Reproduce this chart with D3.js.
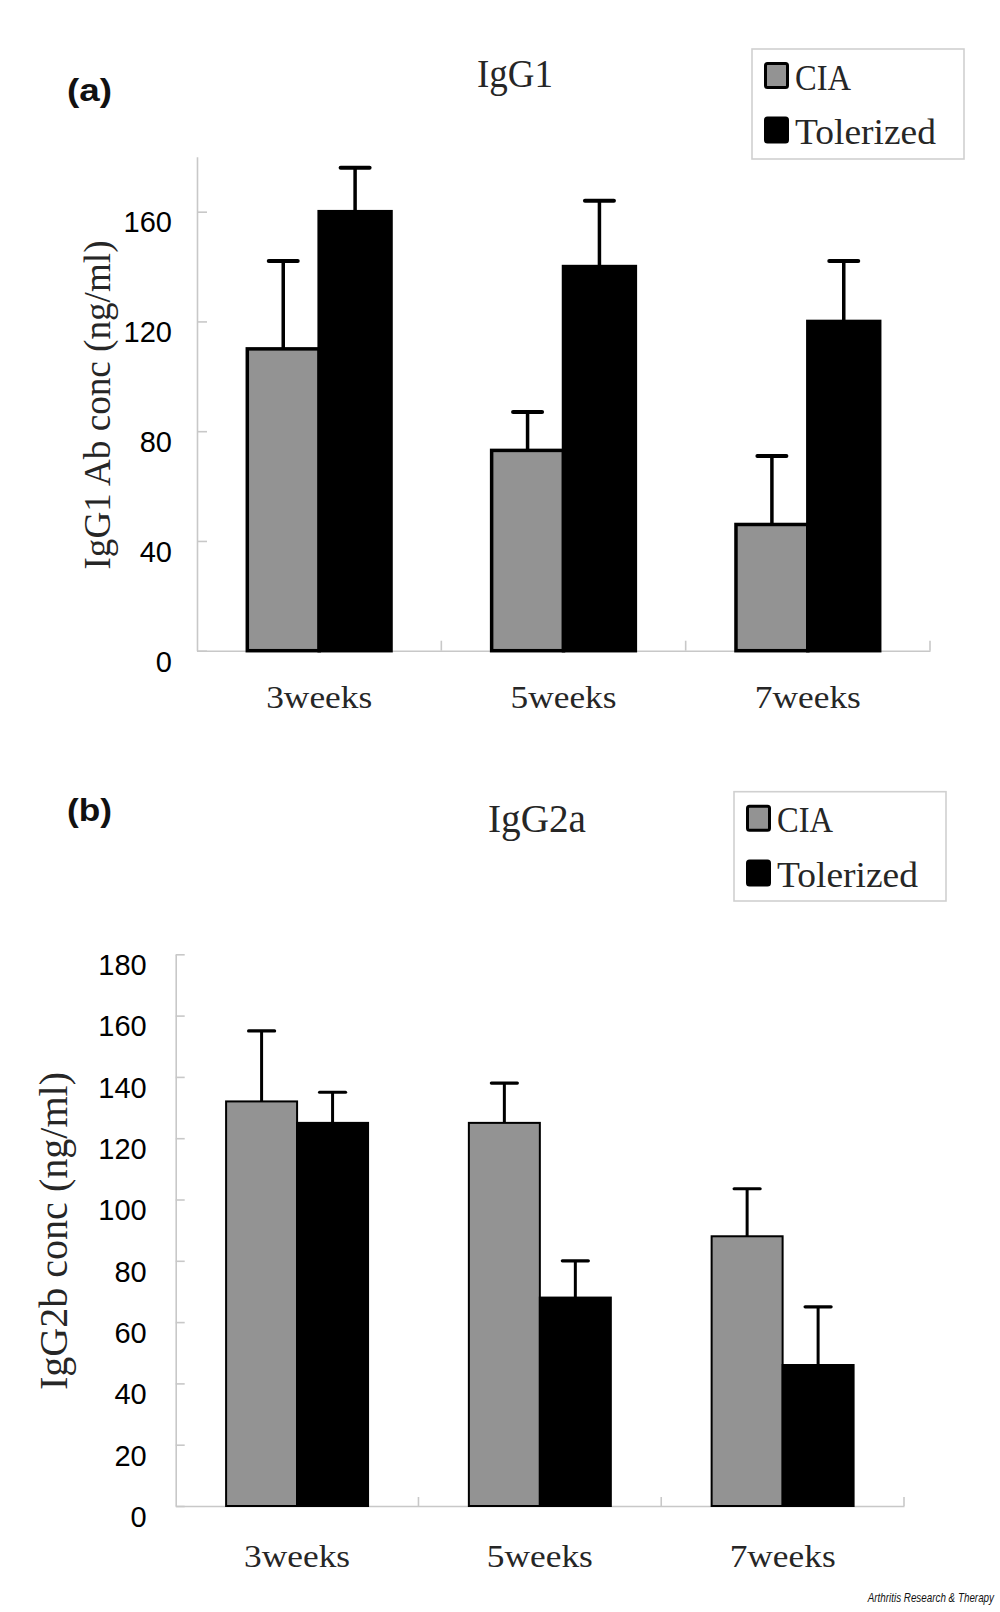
<!DOCTYPE html>
<html><head><meta charset="utf-8">
<script src="https://cdn.jsdelivr.net/npm/d3@7"></script>
<style>body{margin:0;background:#fff}</style>
</head><body>
<svg id="chart" width="1000" height="1612"></svg>
<script>
// ---- data ----
const categories = ["3weeks", "5weeks", "7weeks"];
const seriesNames = ["CIA", "Tolerized"];
const seriesColors = ["#939393", "#000000"];

const igg1CIA = [110, 73, 46];
const igg1CIAErr = [32, 14, 25];
const igg1Tol = [160, 140, 120];
const igg1TolErr = [16, 24, 22];

const igg2aCIA = [132, 125, 88];
const igg2aCIAErr = [23, 13, 15.5];
const igg2aTol = [125, 68, 46];
const igg2aTolErr = [10, 12, 19];

const ticksA = [0, 40, 80, 120, 160];
const ticksB = [0, 20, 40, 60, 80, 100, 120, 140, 160, 180];

const panelLetters = ["(a)", "(b)"];
const titles = ["IgG1", "IgG2a"];
const yLabels = ["IgG1 Ab conc (ng/ml)", "IgG2b conc (ng/ml)"];
const credit = "Arthritis Research & Therapy";

const SERIF = "'Liberation Serif', 'Times New Roman', serif";
const SANS = "'Liberation Sans', Arial, sans-serif";
const SERIF_FILL = "#262626";

const svg = d3.select("#chart");
svg.append("rect").attr("width", 1000).attr("height", 1612).attr("fill", "#fff");

function panel(o) {
  const g = svg.append("g");
  const x0 = d3.scaleBand().domain(categories).range([o.left, o.right]).padding(0);
  const x1 = d3.scaleBand().domain(seriesNames).range([0, x0.bandwidth()])
    .paddingInner(0).paddingOuter(o.pad);
  const y = d3.scaleLinear().domain([0, 180]).range([o.bottom, o.top]);

  // y axis
  const ya = g.append("g").attr("transform", `translate(${o.left},0)`)
    .call(d3.axisLeft(y).tickValues(o.ticks).tickSizeInner(-o.tickLen).tickSizeOuter(0).tickPadding(o.tickPad));
  ya.select(".domain").attr("stroke", "#c8c8c8").attr("stroke-width", 1.6);
  ya.selectAll(".tick line").attr("stroke", "#c8c8c8").attr("stroke-width", 1.6);
  ya.selectAll(".tick text").attr("font-family", SANS).attr("font-size", 29)
    .attr("fill", "#000").attr("dy", "0.7em");

  // x axis
  const xa = g.append("g").attr("transform", `translate(0,${o.bottom})`)
    .call(d3.axisBottom(x0).tickSize(0).tickSizeOuter(0));
  xa.select(".domain").attr("stroke", "#c8c8c8").attr("stroke-width", 1.6);
  xa.selectAll(".tick text").attr("font-family", SERIF).attr("font-size", 32)
    .attr("fill", SERIF_FILL).attr("y", o.xLabelOff).attr("dy", 0)
    .attr("textLength", 106).attr("lengthAdjust", "spacingAndGlyphs");
  xa.selectAll(".bnd").data(categories).enter().append("line")
    .attr("class", "bnd")
    .attr("x1", d => x0(d) + x0.bandwidth()).attr("x2", d => x0(d) + x0.bandwidth())
    .attr("y1", 0).attr("y2", -o.tickLen)
    .attr("stroke", "#c8c8c8").attr("stroke-width", 1.6);

  // bars
  const rows = categories.map((c, i) => ({
    c,
    vals: o.series.map((s, j) => ({ name: seriesNames[j], color: seriesColors[j], v: s.vals[i], e: s.errs[i] }))
  }));
  const grp = g.selectAll(".grp").data(rows).enter().append("g")
    .attr("class", "grp").attr("transform", d => `translate(${x0(d.c)},0)`);

  grp.selectAll(".err").data(d => d.vals).enter().append("line")
    .attr("x1", d => x1(d.name) + x1.bandwidth() / 2)
    .attr("x2", d => x1(d.name) + x1.bandwidth() / 2)
    .attr("y1", d => y(d.v)).attr("y2", d => y(d.v + d.e))
    .attr("stroke", "#000").attr("stroke-width", o.errW);
  grp.selectAll(".cap").data(d => d.vals).enter().append("line")
    .attr("x1", d => x1(d.name) + x1.bandwidth() / 2 - o.capW / 2)
    .attr("x2", d => x1(d.name) + x1.bandwidth() / 2 + o.capW / 2)
    .attr("y1", d => y(d.v + d.e)).attr("y2", d => y(d.v + d.e))
    .attr("stroke", "#000").attr("stroke-width", o.capT).attr("stroke-linecap", "round");

  grp.selectAll(".bar").data(d => d.vals).enter().append("rect")
    .attr("x", d => x1(d.name)).attr("width", x1.bandwidth())
    .attr("y", d => y(d.v)).attr("height", d => y(0) - y(d.v))
    .attr("fill", d => d.color).attr("stroke", "#000").attr("stroke-width", o.barStroke);

  // legend
  const lg = g.append("g");
  lg.append("rect").attr("x", o.leg.x).attr("y", o.leg.y).attr("width", o.leg.w).attr("height", o.leg.h)
    .attr("fill", "#fff").attr("stroke", "#d0d0d0").attr("stroke-width", 1.6);
  seriesNames.forEach((s, j) => {
    const sy = o.leg.y + o.leg.sy0 + j * o.leg.dy;
    lg.append("rect").attr("x", o.leg.x + 13.5).attr("y", sy).attr("width", 22).attr("height", 24)
      .attr("rx", 2).attr("fill", seriesColors[j]).attr("stroke", "#000").attr("stroke-width", 3);
    lg.append("text").attr("x", o.leg.x + 43).attr("y", sy + 26)
      .attr("font-family", SERIF).attr("font-size", 36).attr("fill", SERIF_FILL)
      .attr("textLength", j === 0 ? 56 : 141).attr("lengthAdjust", "spacingAndGlyphs")
      .text(s);
  });

  // title
  g.append("text").attr("x", o.titleX).attr("y", o.titleY).attr("text-anchor", "middle")
    .attr("font-family", SERIF).attr("font-size", 40).attr("fill", SERIF_FILL)
    .attr("textLength", o.titleLen).attr("lengthAdjust", "spacingAndGlyphs").text(o.title);

  // panel letter
  g.append("text").attr("x", 67).attr("y", o.letterY)
    .attr("font-family", SANS).attr("font-weight", "bold").attr("font-size", 32).attr("fill", "#111")
    .attr("textLength", 45).attr("lengthAdjust", "spacingAndGlyphs").text(o.letter);

  // y label
  g.append("text").attr("transform", `translate(${o.ylab.x},${o.ylab.y}) rotate(-90)`)
    .attr("text-anchor", "middle").attr("font-family", SERIF).attr("font-size", o.ylab.size)
    .attr("fill", SERIF_FILL).attr("textLength", o.ylab.len).attr("lengthAdjust", "spacingAndGlyphs")
    .text(o.ylabel);
}

panel({
  left: 197, right: 930, top: 156.8, bottom: 650.7, pad: 0.7,
  ticks: ticksA, tickLen: 10, tickPad: 25, xLabelOff: 57.6,
  series: [{ vals: igg1CIA, errs: igg1CIAErr }, { vals: igg1Tol, errs: igg1TolErr }],
  errW: 3.5, capW: 29, capT: 4, barStroke: 3.5,
  leg: { x: 752, y: 49, w: 212, h: 110, sy0: 14.5, dy: 54.5 },
  title: titles[0], titleX: 515, titleY: 87, titleLen: 76,
  letter: panelLetters[0], letterY: 101,
  ylabel: yLabels[0], ylab: { x: 110, y: 405, size: 37, len: 329 }
});

panel({
  left: 175.7, right: 904, top: 954.3, bottom: 1506, pad: 0.71,
  ticks: ticksB, tickLen: 9, tickPad: 29, xLabelOff: 60.7,
  series: [{ vals: igg2aCIA, errs: igg2aCIAErr }, { vals: igg2aTol, errs: igg2aTolErr }],
  errW: 3, capW: 26, capT: 3.2, barStroke: 2,
  leg: { x: 734, y: 791.7, w: 212, h: 109.3, sy0: 14.5, dy: 54.7 },
  title: titles[1], titleX: 537, titleY: 831.7, titleLen: 98,
  letter: panelLetters[1], letterY: 821,
  ylabel: yLabels[1], ylab: { x: 66.7, y: 1231, size: 40, len: 318 }
});

svg.append("text").attr("transform", "translate(994,1602) scale(0.82,1)").attr("text-anchor", "end")
  .attr("font-family", SANS).attr("font-style", "italic").attr("font-size", 12).attr("fill", "#111")
  .text(credit);
</script>
</body></html>
